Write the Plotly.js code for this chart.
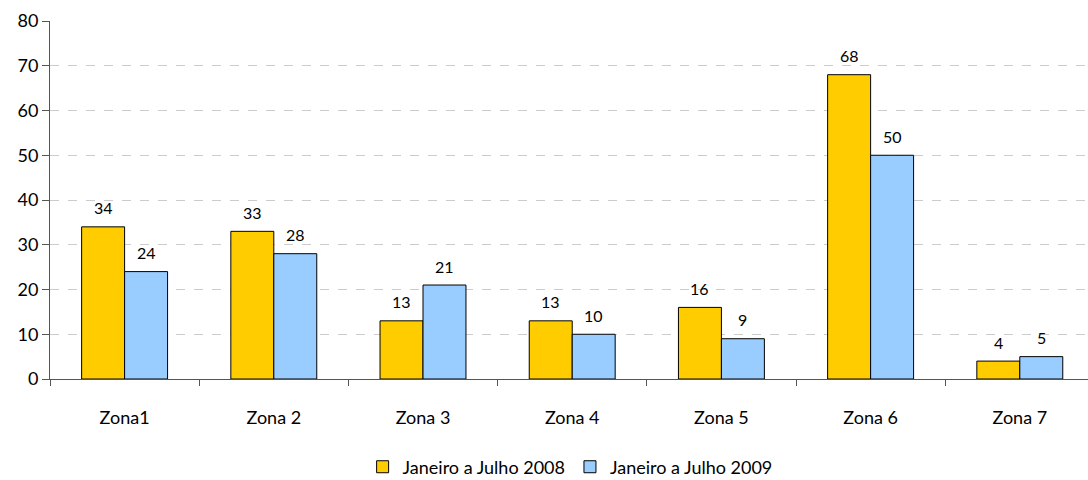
<!DOCTYPE html>
<html><head><meta charset="utf-8">
<script src="https://cdn.plot.ly/plotly-3.0.1.min.js"></script>
<style>body{margin:0;background:#fff}#c{width:1088px;height:480px}</style>
</head><body><div id="c"></div>
<script>
const categories = ["Zona1","Zona 2","Zona 3","Zona 4","Zona 5","Zona 6","Zona 7"];
const values2008 = [34,33,13,13,16,68,4];
const values2009 = [24,28,21,10,9,50,5];
const seriesNames = ["Janeiro a Julho 2008","Janeiro a Julho 2009"];
const FONT = "Lato, 'Open Sans', sans-serif";
function tr(name, vals, color){
  return {type:"bar", name:name, x:categories, y:vals,
    marker:{color:color, line:{color:"#000",width:1}}};
}
const data = [tr(seriesNames[0],values2008,"#FFCC00"), tr(seriesNames[1],values2009,"#99CCFF")];
const annotations = [];
[values2008, values2009].forEach((vals, s) => {
  vals.forEach((v, i) => {
    annotations.push({x: i + (s === 0 ? -0.144 : 0.144), y: v, xref:"x", yref:"y",
      text: String(v), showarrow:false, yshift:19, yanchor:"middle",
      font:{family:FONT,size:16,color:"#000"}});
  });
});
const layout = {
  width:1088, height:480,
  margin:{l:50,r:0,t:21,b:101},
  paper_bgcolor:"#fff", plot_bgcolor:"#fff",
  barmode:"group", bargap:0.424, bargroupgap:0,
  font:{family:FONT,size:18,color:"#000"},
  annotations: annotations,
  xaxis:{type:"category", range:[-0.5,6.457], tickson:"boundaries", ticks:"outside", ticklen:6,
    tickcolor:"#555", showline:true, linecolor:"#555", linewidth:1, showgrid:false,
    ticklabelstandoff:22, tickfont:{family:FONT,size:18}, automargin:false},
  yaxis:{range:[0,80], dtick:10, ticks:"outside", ticklen:7, tickcolor:"#555",
    showline:true, linecolor:"#555", linewidth:1, showgrid:true, gridcolor:"#cccccc",
    griddash:"dash", zeroline:false, tickfont:{family:FONT,size:18}, automargin:false},
  legend:{orientation:"h", x:0.524, xanchor:"center", xref:"container", yref:"container",
    y:0.027, yanchor:"middle",
    font:{family:FONT,size:18}, itemwidth:30, traceorder:"normal"},
  showlegend:true
};
Plotly.newPlot("c", data, layout, {displayModeBar:false, staticPlot:true});
</script></body></html>
